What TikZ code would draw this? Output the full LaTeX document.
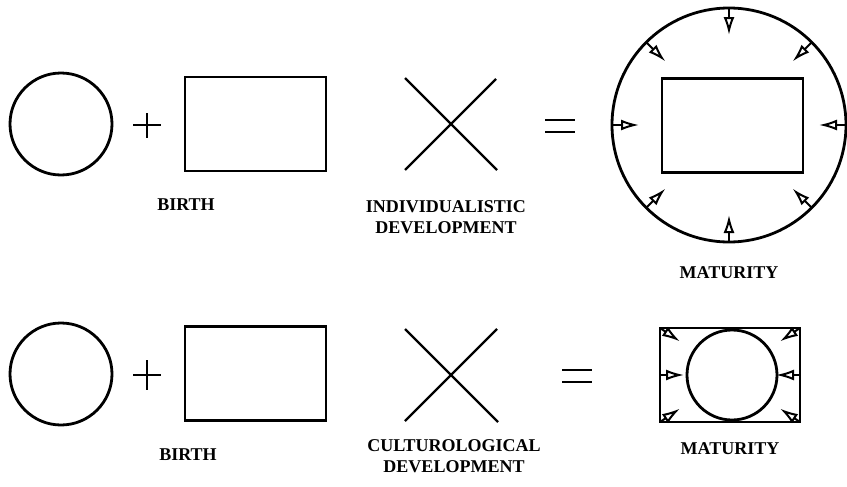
\documentclass[tikz,border=0pt]{standalone}
\usepackage{fontspec}
\setmainfont{Liberation Serif}
\usetikzlibrary{arrows.meta,calc,positioning}
\tikzset{
  ring/.style={circle,draw,line width=1.4pt,inner sep=0pt,outer sep=0pt},
  frame/.style={rectangle,draw,line width=1.1pt,inner sep=0pt,outer sep=0pt,
    minimum width=70.5pt,minimum height=47pt},
  sign/.style={line width=1.4pt},
  cross/.style={line width=1.1pt},
  caption/.style={font=\fontsize{9}{10.5}\selectfont\bfseries,align=center,inner sep=0pt},
  inarrow/.style={line width=1pt,-{Latex[open,length=9pt,width=5.5pt]}},
}
\begin{document}
\begin{tikzpicture}[x=0.5pt,y=-0.5pt]
  \useasboundingbox (0,0) rectangle (847,487);
  % individualistic row
  \node [ring,minimum size=51pt] (nature1) at (61,124) {};
  \coordinate (plus1) at (147,125);
  \draw [sign] (plus1) ++(-14,0) -- ++(28,0) (plus1) ++(0,-12) -- ++(0,25);
  \node [frame] (culture1) at (255.5,124) {};
  \node [caption] (birth1) at (186,205) {BIRTH};
  \coordinate (cross1) at (451,124);
  \draw [cross] (cross1) ++(-46,-46) -- ++(92,92) (cross1) ++(45,-45) -- ++(-91,91);
  \node [caption] (dev1) at (446,217.5) {INDIVIDUALISTIC\\DEVELOPMENT};
  \coordinate (equal1) at (560,126);
  \draw [sign] (equal1) ++(-15,-6) -- ++(30,0) (equal1) ++(-15,6) -- ++(30,0);
  \node [ring,minimum size=117pt] (mature1) at (729,125) {};
  \node [frame] (inner1) at (732.5,125.5) {};
  \foreach \a in {0,45,...,315}
    \draw [inarrow] (mature1.\a) -- ($(mature1.\a)!13.5pt!(mature1.center)$);
  \node [caption,below=12pt of mature1] (matlabel1) {MATURITY};
  % culturological row
  \node [ring,minimum size=51pt] (nature2) at (61,374) {};
  \coordinate (plus2) at (147,375);
  \draw [sign] (plus2) ++(-14,0) -- ++(28,0) (plus2) ++(0,-15) -- ++(0,30);
  \node [frame] (culture2) at (255.5,373.5) {};
  \node [caption] (birth2) at (188,455) {BIRTH};
  \coordinate (cross2) at (451,375);
  \draw [cross] (cross2) ++(-46,-46) -- ++(93,93) (cross2) ++(46,-46) -- ++(-92,92);
  \node [caption] (dev2) at (454,456) {CULTUROLOGICAL\\DEVELOPMENT};
  \coordinate (equal2) at (577,376);
  \draw [sign] (equal2) ++(-15,-6) -- ++(30,0) (equal2) ++(-15,6) -- ++(30,0);
  \node [frame,minimum width=70pt] (mature2) at (730,375) {};
  \node [ring,minimum size=45pt] (core2) at (732,375) {};
  \foreach \c in {north west,west,south west,north east,east,south east}
    \draw [inarrow] (mature2.\c) -- ($(mature2.\c)!12pt!(mature2.center)$);
  \node [caption,below=10pt of mature2] (matlabel2) {MATURITY};
\end{tikzpicture}
\end{document}
